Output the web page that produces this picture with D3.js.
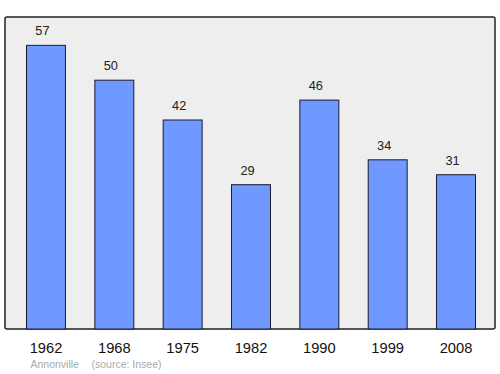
<!DOCTYPE html>
<html><head><meta charset="utf-8">
<script src="https://cdn.jsdelivr.net/npm/d3@7"></script>
<style>body{margin:0;background:#fff}svg{display:block}</style>
</head><body>
<script>
const years = ["1962","1968","1975","1982","1990","1999","2008"];
const population = [57,50,42,29,46,34,31];
const sourceText = ["Annonville", "(source: Insee)"];

const W = 500, H = 374;
const frame = {left:5, top:17, right:495, bottom:329};
const font = "Liberation Sans, Arial, sans-serif";
const svg = d3.select("body").append("svg").attr("width",W).attr("height",H);

svg.append("rect").attr("x",frame.left).attr("y",frame.top)
  .attr("width",frame.right-frame.left).attr("height",frame.bottom-frame.top)
  .attr("rx",2).attr("fill","#eeeeee").attr("stroke","#222").attr("stroke-width",1.5);

const x = d3.scaleBand().domain(years).range([6, 496]).paddingInner(0.43).paddingOuter(0.3);
const y = d3.scaleLinear().domain([0, d3.max(population)*1.1]).range([frame.bottom, frame.top]);

const g = svg.append("g");
g.selectAll("rect.bar").data(years).join("rect").attr("class","bar")
  .attr("x",d=>x(d)).attr("width",x.bandwidth())
  .attr("y",(d,i)=>y(population[i])).attr("height",(d,i)=>frame.bottom-y(population[i]))
  .attr("fill","#7099ff").attr("stroke","#1a1a2e").attr("stroke-width",1);

g.selectAll("text.val").data(years).join("text").attr("class","val")
  .attr("x",d=>x(d)+x.bandwidth()/2 - 3.5).attr("y",(d,i)=>y(population[i])-10)
  .attr("text-anchor","middle").attr("font-family",font)
  .attr("font-size",12.8).attr("fill","#222").text((d,i)=>population[i]);

const axis = d3.axisBottom(x).tickSize(0).tickPadding(0);
const ax = svg.append("g").attr("transform",`translate(0,${frame.bottom})`).call(axis);
ax.select(".domain").remove();
ax.selectAll("text").attr("dy",null).attr("y",24).attr("font-family",font).attr("font-size",14.7).attr("fill","#111");

svg.append("text").attr("x",30.5).attr("y",368).attr("font-family",font)
  .attr("font-size",10.5).attr("fill","#aaa").text(sourceText[0]);
svg.append("text").attr("x",91.5).attr("y",368).attr("font-family",font)
  .attr("font-size",10.5).attr("fill","#aaa").text(sourceText[1]);
</script>
</body></html>
